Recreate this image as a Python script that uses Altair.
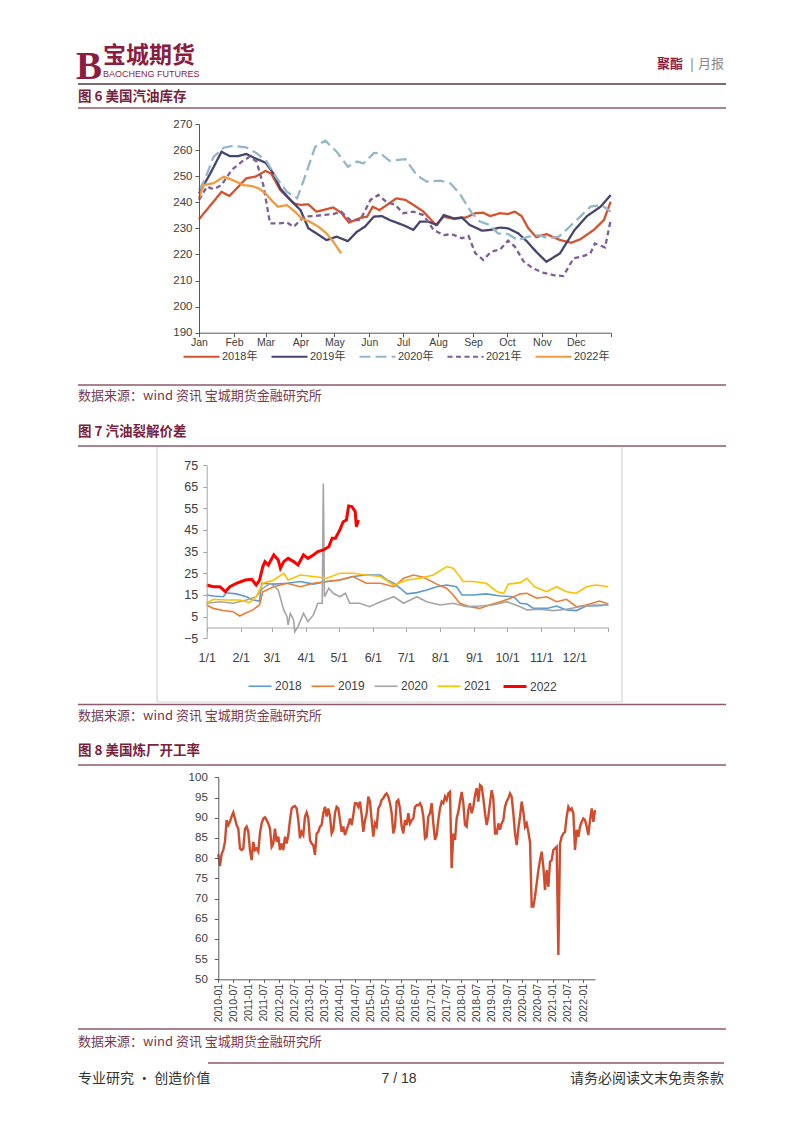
import json
import altair as alt
import pandas as pd

W, H = 786, 1100
M = 8


def px(v):
    return v - M


CJK = "Noto Sans CJK SC"
LAT = "Liberation Sans"
LATCJK = "Liberation Sans, Noto Sans CJK SC"
MAROON = "#8C1D3F"
TITLE_C = "#7A1F3C"
RULE_C = "#8E5A6C"
SRC_C = "#7A3A50"

# ---------------- Figure 6: US gasoline inventory ----------------
INV_YEARS = ["2018年", "2019年", "2020年", "2021年", "2022年"]
INV_COLORS = ["#D4532C", "#45456F", "#93B7CA", "#7E5D9A", "#F29A3F"]
INV_DASH = [[1, 0], [1, 0], [11, 5], [5, 3.5], [1, 0]]
INV_TICKS = [190, 200, 210, 220, 230, 240, 250, 260, 270]
MONTH_DAYS = [0, 31, 59, 90, 120, 151, 181, 212, 243, 273, 304, 334, 365]
MONTH_NAMES = ["Jan", "Feb", "Mar", "Apr", "May", "Jun", "Jul", "Aug", "Sep", "Oct", "Nov", "Dec", ""]

INV_2018_DAY = [0, 20, 27, 42, 50, 59, 64, 72, 84, 90, 97, 104, 119, 126, 133, 143, 149, 154, 160, 175,
                183, 190, 199, 210, 217, 226, 237, 245, 252, 258, 267, 274, 280, 286, 292, 299, 308, 320, 330, 338,
                350, 359, 365]
INV_2018_VAL = [233.5, 244.0, 242.4, 249.2, 249.8, 252.0, 251.0, 244.7, 239.6, 239.0, 239.2, 236.4, 238.0, 236.0,
                232.2, 234.0, 234.5, 238.3, 237.0, 241.5, 240.9, 239.0, 236.4, 231.3, 234.5, 233.6, 234.2, 235.8,
                236.0, 234.7, 235.8, 235.5, 236.4, 234.7, 230.0, 226.6, 227.8, 225.5, 224.5, 225.8, 229.4, 233.2,
                240.2]
INV_2019_DAY = [0, 10, 20, 27, 35, 42, 50, 59, 66, 72, 81, 90, 97, 104, 113, 122, 132, 140, 147, 155,
                162, 169, 177, 183, 190, 196, 203, 211, 217, 226, 233, 240, 251, 258, 267, 274, 283, 291, 299, 308,
                320, 333, 344, 356, 365]
INV_2019_VAL = [243.4, 251.0, 259.4, 257.7, 257.7, 258.5, 256.8, 255.2, 251.0, 245.3, 240.9, 237.0, 230.0, 228.1,
                225.5, 226.8, 225.1, 228.7, 230.6, 234.5, 234.7, 233.2, 231.9, 230.9, 229.4, 232.6, 232.6, 231.3,
                235.1, 233.8, 234.2, 231.3, 229.1, 229.4, 230.3, 230.0, 228.1, 224.9, 221.0, 217.2, 220.4, 229.4,
                234.7, 238.3, 242.8]
INV_2020_DAY = [0, 5, 13, 22, 30, 42, 51, 60, 69, 78, 87, 95, 103, 112, 122, 132, 140, 146, 155, 160,
                169, 183, 193, 202, 214, 223, 231, 242, 249, 258, 265, 274, 283, 292, 301, 310, 319, 327, 338, 347,
                357, 365]
INV_2020_VAL = [244.7, 248.5, 257.5, 260.9, 261.6, 261.0, 258.8, 255.6, 249.2, 244.0, 241.5, 251.1, 261.3, 263.6,
                259.4, 253.6, 255.6, 254.9, 258.8, 259.0, 255.9, 256.5, 250.4, 247.9, 248.3, 247.2, 243.4, 235.8,
                232.6, 231.3, 228.1, 227.8, 225.5, 226.8, 227.4, 226.2, 226.8, 230.0, 234.5, 238.3, 238.9, 236.4]
INV_2021_DAY = [0, 7, 13, 20, 29, 38, 45, 51, 57, 63, 70, 78, 84, 93, 101, 110, 119, 126, 134, 143,
                152, 159, 166, 174, 181, 190, 199, 208, 217, 224, 233, 239, 245, 252, 259, 267, 274, 280, 288, 296,
                305, 314, 323, 332, 339, 347, 351, 360, 365]
INV_2021_VAL = [240.9, 246.0, 245.0, 246.6, 252.4, 255.6, 257.5, 255.6, 246.6, 231.9, 231.9, 232.2, 230.6, 234.5,
                234.7, 235.1, 235.5, 236.4, 233.2, 233.2, 240.9, 242.8, 240.2, 239.0, 235.8, 236.4, 235.1, 229.4,
                227.4, 227.8, 226.2, 227.1, 220.4, 217.9, 221.0, 221.9, 225.3, 223.0, 217.2, 214.7, 213.0, 212.1,
                211.7, 218.5, 219.1, 220.4, 224.2, 222.7, 233.2]
INV_2022_DAY = [0, 4, 13, 22, 30, 39, 47, 53, 59, 64, 70, 78, 85, 91, 98, 106, 113, 119, 126]
INV_2022_VAL = [241.5, 246.6, 247.3, 249.8, 248.5, 246.6, 246.2, 245.3, 243.4, 240.9, 238.3, 238.9, 236.4, 233.8,
                232.6, 230.6, 228.1, 224.9, 220.4]

# ---------------- Figure 7: gasoline crack spread ----------------
CRK_YEARS = ["2018", "2019", "2020", "2021", "2022"]
CRK_COLORS = ["#5B9BD5", "#ED7D31", "#A5A5A5", "#FFC000", "#FF0000"]
CRK_WIDTHS = [1.6, 1.6, 1.6, 1.6, 3.0]
CRK_TICKS = [-5, 5, 15, 25, 35, 45, 55, 65, 75]
CRK_LABELS = ["1/1", "2/1", "3/1", "4/1", "5/1", "6/1", "7/1", "8/1", "9/1", "10/1", "11/1", "12/1", ""]

CRK_2018_DAY = [0, 6, 15, 18, 27, 36, 42, 48, 50, 61, 73, 85, 97, 109, 121, 133, 145, 158, 164, 170,
                176, 182, 191, 200, 209, 218, 227, 232, 242, 254, 267, 279, 285, 291, 297, 309, 318, 327, 336, 345,
                357, 365]
CRK_2018_VAL = [15, 14.5, 14.2, 16, 15.5, 14.2, 12.7, 12.2, 20.4, 20, 20.4, 21.2, 20, 21.2, 21.9, 23.5, 24.2, 24.2,
                21.9, 20.4, 18.1, 15.5, 16.1, 17.3, 18.8, 19.6, 18.8, 15, 15, 15.5, 14.5, 14.2, 11.2, 10.8, 8.8, 8.8,
                9.9, 8.1, 7.8, 9.9, 10.1, 10.4]
CRK_2019_DAY = [0, 6, 15, 24, 30, 36, 42, 48, 51, 61, 73, 85, 97, 109, 121, 133, 145, 158, 170, 179,
                188, 197, 209, 218, 224, 230, 239, 248, 257, 267, 276, 285, 291, 300, 309, 318, 327, 336, 345, 357,
                365]
CRK_2019_VAL = [10.4, 8.8, 7.8, 7.3, 5.3, 6.8, 8.1, 10.4, 16.5, 18.8, 20.4, 18.8, 20.4, 21.2, 21.9, 23.5, 20.4,
                20.4, 18.8, 22.7, 24.2, 23.2, 20, 18.1, 15, 11.2, 9.6, 8.8, 10.4, 11.9, 13.5, 15.5, 15.8, 13.5, 14.2,
                11.9, 13, 9.6, 10.4, 12.2, 10.8]
CRK_2020_DAY = [0, 12, 24, 36, 45, 51, 58, 65, 70, 73, 74, 76, 79, 80, 83, 88, 92, 97, 101, 105,
                106, 107, 111, 115, 121, 126, 130, 139, 148, 158, 170, 179, 191, 200, 212, 224, 236, 248, 260, 273,
                285, 291, 303, 315, 327, 339, 351, 365]
CRK_2020_VAL = [11.2, 11.9, 11.2, 12.7, 14.2, 18.1, 20.4, 17.3, 8.1, 5, 1.2, 6.5, 3.5, -2, 0.4, 6.5, 2.7, 5.8,
                11.2, 11.2, 66.5, 14.2, 18.1, 15.8, 14.2, 15.8, 11.2, 11.2, 9.6, 11.9, 14.2, 11.2, 14.2, 11.9, 10.4,
                11.2, 9.6, 9.9, 10.4, 11.9, 9.6, 8.1, 8.4, 7.8, 8.4, 9.6, 10.4, 10.4]
CRK_2021_DAY = [0, 6, 18, 30, 39, 45, 51, 61, 70, 74, 85, 97, 109, 121, 133, 145, 158, 170, 182, 194,
                206, 218, 224, 230, 233, 242, 254, 264, 270, 274, 285, 291, 298, 309, 318, 327, 336, 345, 354, 365]
CRK_2021_VAL = [11.2, 13, 12.7, 12.7, 11.5, 14.2, 20.4, 21.9, 25, 21.9, 24.2, 23.5, 22.7, 25, 25, 24.2, 23.5, 19.6,
                21.9, 22.7, 24.2, 28.1, 27.3, 23.5, 21.2, 21.2, 20.4, 16.5, 15.8, 20, 20.7, 22.7, 18.8, 16.5, 18.8,
                16.5, 15.8, 18.8, 19.6, 18.8]
CRK_2022_DAY = [0, 6, 12, 17, 21, 27, 35, 41, 45, 48, 51, 53, 56, 61, 65, 67, 70, 74, 79, 83,
                88, 92, 97, 101, 106, 111, 114, 117, 121, 124, 127, 129, 132, 135, 136, 138]
CRK_2022_VAL = [19.6, 18.8, 18.8, 16.5, 18.8, 20.4, 21.9, 22.2, 19.6, 21.9, 28.1, 30.4, 28.8, 33.5, 31.2, 27.3,
                30.4, 31.9, 30.4, 28.8, 33.5, 31.9, 33.5, 35, 35.8, 37.3, 41.2, 41.2, 45, 48.8, 49.6, 56.1, 55.8,
                53.5, 46.5, 49.6]

# ---------------- Figure 8: US refinery utilisation ----------------
RATE_TICKS = [50, 55, 60, 65, 70, 75, 80, 85, 90, 95, 100]
RATE_TICK_MONTHS = [0, 6, 12, 18, 24, 30, 36, 42, 48, 54, 60, 66, 72, 78, 84, 90, 96, 102, 108, 114, 120, 126,
                    132, 138, 144]
RATE_TICK_LABELS = ["2010-01", "2010-07", "2011-01", "2011-07", "2012-01", "2012-07", "2013-01", "2013-07",
                    "2014-01", "2014-07", "2015-01", "2015-07", "2016-01", "2016-07", "2017-01", "2017-07",
                    "2018-01", "2018-07", "2019-01", "2019-07", "2020-01", "2020-07", "2021-01", "2021-07",
                    "2022-01"]
RATE_STEP_MONTHS = 0.658  # sampling interval of the read-off values, in months since 2010-01
RATE_VAL = [
    81.0, 78.0, 81.0, 82.0, 84.0, 89.4, 88.2, 89.0, 90.3, 91.3,
    89.8, 88.2, 87.3, 82.4, 82.0, 82.4, 87.3, 87.8, 86.5, 82.0,
    79.5, 84.0, 82.0, 82.4, 81.6, 86.1, 88.6, 89.8, 90.1, 89.4,
    88.6, 87.3, 82.8, 83.6, 87.3, 84.0, 85.3, 82.0, 83.6, 82.0,
    85.3, 83.6, 85.7, 89.4, 92.3, 92.7, 92.9, 92.3, 89.4, 84.9,
    86.5, 85.7, 90.3, 91.3, 89.8, 84.5, 83.6, 83.2, 80.8, 86.1,
    86.5, 87.8, 88.2, 91.1, 92.7, 90.3, 92.3, 90.3, 86.1, 87.0,
    91.1, 92.7, 92.3, 89.4, 86.5, 87.8, 85.7, 87.0, 88.2, 89.8,
    88.2, 90.7, 93.6, 93.6, 92.7, 94.0, 90.7, 86.5, 89.4, 91.1,
    95.2, 94.0, 89.4, 85.3, 88.6, 87.8, 92.3, 93.1, 94.4, 94.8,
    95.6, 96.0, 95.2, 93.6, 91.1, 86.1, 87.8, 94.0, 94.4,
    92.3, 87.8, 86.1, 89.4, 88.2, 91.1, 88.6, 89.4, 89.8, 92.7,
    93.1, 93.1, 93.6, 92.7, 90.3, 84.9, 85.3, 90.3, 91.1, 93.6,
    88.6, 84.5, 85.7, 89.4, 92.3, 94.0, 93.6, 95.2, 94.4, 96.0,
    96.4, 77.5, 86.1, 84.5, 89.8, 91.5, 94.0, 96.4, 93.6, 88.2,
    87.8, 91.9, 93.6, 91.1, 92.7, 95.6, 97.3, 94.0, 98.1, 97.7,
    94.8, 91.1, 88.2, 90.3, 93.6, 96.8, 94.8, 86.1, 86.1, 88.6,
    87.0, 88.6, 89.4, 92.7, 94.0, 94.8, 96.0, 95.2, 91.1, 86.1,
    83.2, 87.3, 90.3, 94.0, 91.5, 87.8, 88.6, 86.5, 84.0, 68.0,
    68.0, 70.5, 73.7, 77.0, 79.5, 81.6, 77.9, 72.1, 77.0, 72.9,
    79.1, 79.5, 82.0, 82.4, 82.8, 56.0, 83.6, 85.3, 86.1, 86.5,
    90.3, 92.7, 91.9, 92.3, 91.1, 82.0, 87.0, 85.3, 87.8, 89.0,
    89.8, 89.4, 87.8, 85.7, 89.4, 92.3, 89.0, 91.9,
]

# ---------------- tables ----------------
inv_df = pd.DataFrame(
    [{"year": y, "day": d, "value": v}
     for y, days, vals in zip(INV_YEARS,
                              [INV_2018_DAY, INV_2019_DAY, INV_2020_DAY, INV_2021_DAY, INV_2022_DAY],
                              [INV_2018_VAL, INV_2019_VAL, INV_2020_VAL, INV_2021_VAL, INV_2022_VAL])
     for d, v in zip(days, vals)])
crk_df = pd.DataFrame(
    [{"year": y, "day": d, "value": v}
     for y, days, vals in zip(CRK_YEARS,
                              [CRK_2018_DAY, CRK_2019_DAY, CRK_2020_DAY, CRK_2021_DAY, CRK_2022_DAY],
                              [CRK_2018_VAL, CRK_2019_VAL, CRK_2020_VAL, CRK_2021_VAL, CRK_2022_VAL])
     for d, v in zip(days, vals)])
rate_df = pd.DataFrame({"month": [i * RATE_STEP_MONTHS for i in range(len(RATE_VAL))], "rate": RATE_VAL})
DUMMY = pd.DataFrame({"k": [0]})


def label_expr(labels, ticks):
    return f"{json.dumps(labels)}[indexof({json.dumps(ticks)}, datum.value)]"


def axis(orient, pos, values, expr=None, **kw):
    offset = px(pos) - H if orient == "bottom" else -px(pos)
    base = dict(orient=orient, offset=offset, values=values, grid=False, title=None, zindex=1,
                labelFont=LAT, labelFlush=False, labelOverlap=False, labelColor="#404040")
    if expr:
        base["labelExpr"] = expr
    base.update(kw)
    return alt.Axis(**base)


def txt(s, x, y, size, color, weight="normal", align="left", font=CJK, baseline="middle"):
    return alt.Chart(DUMMY).mark_text(
        text=s, align=align, baseline=baseline, fontSize=size, font=font, fontWeight=weight, color=color
    ).encode(x=alt.value(px(x)), y=alt.value(px(y)))


def hrule(x1, x2, y, color=RULE_C, width=1.5):
    return alt.Chart(DUMMY).mark_rule(color=color, strokeWidth=width).encode(
        x=alt.value(px(x1)), x2=alt.value(px(x2)), y=alt.value(px(y)))


def vrule(x, y1, y2, color, width=1.2):
    return alt.Chart(DUMMY).mark_rule(color=color, strokeWidth=width).encode(
        x=alt.value(px(x)), y=alt.value(px(y1)), y2=alt.value(px(y2)))


SOURCE = "数据来源：wind 资讯 宝城期货金融研究所"
BOX_C = "#D4D4D4"
deco = [
    txt("B", 89, 79, 39, MAROON, weight="bold", align="center", font="Liberation Serif", baseline="alphabetic"),
    txt("宝城期货", 103, 56, 23, MAROON, weight="bold"),
    txt("BAOCHENG FUTURES", 103, 74, 9, MAROON, font=LAT),
    txt("聚酯", 657, 64, 13, MAROON, weight="bold"),
    txt("|", 690, 64, 15, "#9A9A9A", font=LAT),
    txt("月报", 724, 64, 13, "#8A8A8A", align="right"),
    hrule(78, 726, 84, "#4B3B40", 1.5),
    txt("图 6 美国汽油库存", 78, 97, 13.5, TITLE_C, weight="bold"),
    hrule(78, 726, 108),
    hrule(78, 726, 385),
    txt(SOURCE, 78, 396, 13, SRC_C),
    txt("图 7 汽油裂解价差", 78, 432, 13.5, TITLE_C, weight="bold"),
    hrule(78, 726, 446),
    vrule(157, 447, 702, BOX_C),
    vrule(622, 447, 702, BOX_C),
    hrule(157, 622, 702, BOX_C, 1.2),
    hrule(78, 726, 704.5),
    txt(SOURCE, 78, 716, 13, SRC_C),
    txt("图 8 美国炼厂开工率", 78, 751, 13.5, TITLE_C, weight="bold"),
    hrule(78, 726, 765),
    hrule(78, 726, 1029),
    txt(SOURCE, 78, 1042, 13, SRC_C),
    hrule(208, 724, 1063),
    txt("专业研究 • 创造价值", 78, 1079, 14, "#333333"),
    txt("7 / 18", 399, 1079, 14, "#333333", align="center", font=LAT),
    txt("请务必阅读文末免责条款", 724, 1079, 14, "#333333", align="right"),
]

# ---- Figure 6 ----
inv_legend = alt.Legend(orient="none", legendX=px(182), legendY=px(355) - 18, direction="horizontal",
                        columns=5, symbolType="stroke", symbolSize=1296, symbolStrokeWidth=2.2,
                        labelFont=LATCJK, labelFontSize=11, labelColor="#404040", labelOffset=1,
                        columnPadding=9, title=None, padding=0)
inv = alt.Chart(inv_df).mark_line(strokeWidth=2.3).encode(
    x=alt.X("day:Q", scale=alt.Scale(domain=[0, 365], range=[px(199), px(610.7)], nice=False, zero=False),
            axis=axis("bottom", 332.7, MONTH_DAYS, label_expr(MONTH_NAMES, MONTH_DAYS),
                      domainColor="#595959", tickColor="#595959", tickSize=4, labelPadding=1,
                      labelFontSize=10.5)),
    y=alt.Y("value:Q", scale=alt.Scale(domain=[190, 270], range=[px(332.7), px(124)], nice=False, zero=False),
            axis=axis("left", 199, INV_TICKS, domainColor="#595959", tickColor="#595959", tickSize=4,
                      labelPadding=3, labelFontSize=11.5)),
    color=alt.Color("year:N", scale=alt.Scale(domain=INV_YEARS, range=INV_COLORS), legend=inv_legend),
    strokeDash=alt.StrokeDash("year:N", scale=alt.Scale(domain=INV_YEARS, range=INV_DASH), legend=inv_legend),
)

# ---- Figure 7 ----
crk_legend = alt.Legend(orient="none", legendX=px(247), legendY=px(685) - 11.5, direction="horizontal",
                        columns=5, symbolType="stroke", symbolSize=529, symbolStrokeWidth=2.5,
                        labelFont=LAT, labelFontSize=12, labelColor="#404040", labelOffset=2,
                        columnPadding=6, title=None, padding=0)
crk = alt.Chart(crk_df).mark_line().encode(
    x=alt.X("day:Q", scale=alt.Scale(domain=[0, 365], range=[px(206.7), px(608.3)], nice=False, zero=False),
            axis=axis("bottom", 627.5, MONTH_DAYS, label_expr(CRK_LABELS, MONTH_DAYS),
                      domainColor="#A6A6A6", tickColor="#A6A6A6", tickSize=4, labelPadding=20,
                      labelFontSize=12.5)),
    y=alt.Y("value:Q", scale=alt.Scale(domain=[-5, 75], range=[px(638.3), px(465)], nice=False, zero=False),
            axis=axis("left", 206.7, CRK_TICKS, domainColor="#A6A6A6", tickColor="#A6A6A6", tickSize=4,
                      labelPadding=5, labelFontSize=12.5)),
    color=alt.Color("year:N", scale=alt.Scale(domain=CRK_YEARS, range=CRK_COLORS), legend=crk_legend),
    strokeWidth=alt.StrokeWidth("year:N", scale=alt.Scale(type="ordinal", domain=CRK_YEARS, range=CRK_WIDTHS),
                                legend=None),
)

# ---- Figure 8 ----
rate = alt.Chart(rate_df).mark_line(strokeWidth=2.4, color="#D14B2C").encode(
    x=alt.X("month:Q", scale=alt.Scale(domain=[0, 148.7], range=[px(218.3), px(595)], nice=False, zero=False),
            axis=axis("bottom", 979.3, RATE_TICK_MONTHS, label_expr(RATE_TICK_LABELS, RATE_TICK_MONTHS),
                      labelAngle=-90, domainColor="#595959", tickColor="#595959", tickSize=3, labelPadding=1,
                      labelFontSize=10.5)),
    y=alt.Y("rate:Q", scale=alt.Scale(domain=[50, 100], range=[px(979.3), px(777.3)], nice=False, zero=False),
            axis=axis("left", 218.3, RATE_TICKS, domainColor="#595959", tickColor="#595959", tickSize=4,
                      labelPadding=7, labelFontSize=11.5)),
)

chart = alt.layer(*deco, inv, crk, rate).resolve_scale(
    x="independent", y="independent", color="independent", strokeDash="independent",
    strokeWidth="independent"
).resolve_axis(
    x="independent", y="independent"
).resolve_legend(
    color="independent", strokeDash="independent", strokeWidth="independent"
).properties(
    width=W, height=H, padding=0, background="white",
    autosize=alt.AutoSizeParams(type="none"),
).configure_view(stroke=None)

chart.save("out.html", embed_options={"renderer": "svg", "actions": False})
